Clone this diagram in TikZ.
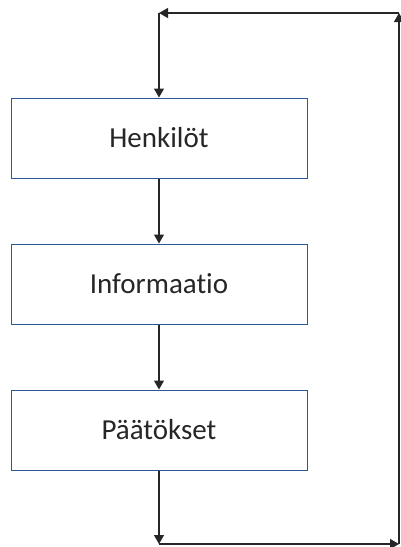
\documentclass[tikz,border=0pt]{standalone}
\usepackage{fontspec}
\setmainfont{Carlito}[Ligatures={NoCommon}]
\usetikzlibrary{positioning,arrows.meta}
\definecolor{boxblue}{RGB}{47,85,151}
\definecolor{linegray}{RGB}{38,38,38}

\begin{document}
\begin{tikzpicture}[x=1pt, y=-1pt, ->, >={Triangle[length=9pt,width=10pt]}, node distance=65pt, box/.style = {rectangle, draw=boxblue, line width=1pt, fill=none, minimum width=296pt, minimum height=80pt, inner sep=0pt, text=linegray, font=\fontsize{29}{34}\selectfont}, every edge/.append style={line width=1.2pt, draw=linegray}]

\useasboundingbox (0,0) rectangle (401,547);

\node[box] (henk) at (159,138) {Henkilöt};
\node[box] (info) [below = of henk] {Informaatio};
\node[box] (paat) [below = of info] {Päätökset};

\coordinate (tl) at (159,13);
\coordinate (bl) at (159,544);
\coordinate (br) at (399,544);
\coordinate (tr) at (399,13);

\path (tl) edge (henk);
\path (henk) edge (info);
\path (info) edge (paat);
\path (paat) edge (bl);
\path (bl) edge (br);
\path (br) edge (tr);
\path (tr) edge (tl);
\end{tikzpicture}
\end{document}
